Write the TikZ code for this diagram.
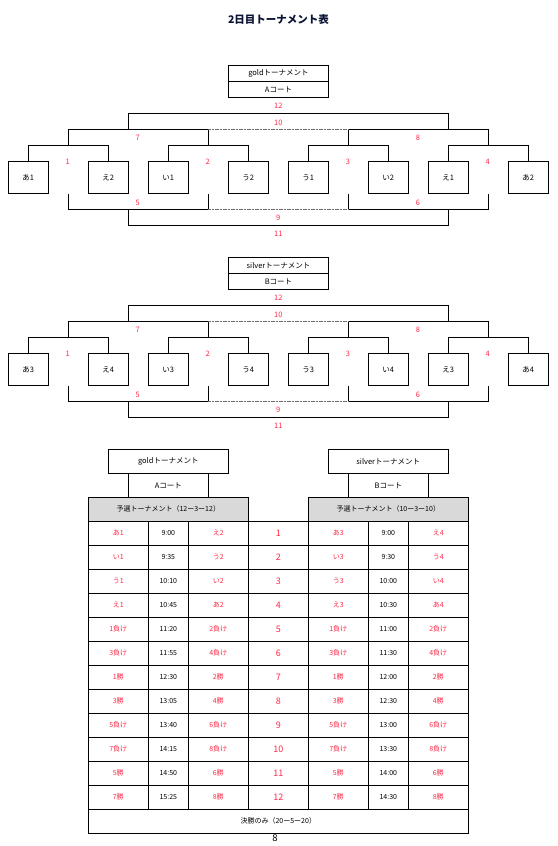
\documentclass[tikz,border=0pt]{standalone}
\usepackage{fontspec}
\setmainfont{Noto Sans CJK JP}
\definecolor{rd}{RGB}{255,40,70}
\definecolor{hdr}{RGB}{217,217,217}
\begin{document}
\begin{tikzpicture}[x=1pt,y=-1pt,line width=0.8pt]
\useasboundingbox (0,0) rectangle (557,846);
\tikzset{
 team/.style={draw, minimum width=40pt, minimum height=32pt, inner sep=0pt, font=\fontsize{7.5}{8}\selectfont},
 lbl/.style={text=rd, inner sep=0pt, font=\fontsize{7.5}{8}\selectfont},
 hd/.style={draw, minimum width=100.4pt, minimum height=16pt, inner sep=0pt, font=\fontsize{7.5}{8}\selectfont},
 dotline/.style={draw={rgb,255:red,110;green,110;blue,110}, line width=1.6pt, dash pattern=on 1.2pt off 0.4pt},
 cell/.style={draw, minimum height=24pt, inner sep=0pt, font=\fontsize{7}{8}\selectfont},
 redcell/.style={cell, text=rd},
 numcell/.style={cell, text=rd, font=\fontsize{9}{10}\selectfont},
}
\node[font=\fontsize{10.5}{12}\selectfont\bfseries, text={rgb,255:red,10;green,20;blue,50}] (title) at (278.5,19) {2日目トーナメント表};

\foreach \dy/\p/\ha/\hb/\ta/\tb/\tc/\td/\te/\tf/\tg/\th in
 {0/g/goldトーナメント/Aコート/あ1/え2/い1/う2/う1/い2/え1/あ2,
  192/s/silverトーナメント/Bコート/あ3/え4/い3/う4/う3/い4/え3/あ4}{
\begin{scope}[shift={(0,\dy)}]
 \node[hd] (\p H1) at (278.5,73.3) {\ha};
 \node[hd] (\p H2) at (278.5,89.3) {\hb};
 \node[team] (\p A1) at (28.3,177.5) {\ta};
 \node[team] (\p A2) at (108.3,177.5) {\tb};
 \node[team] (\p A3) at (168.3,177.5) {\tc};
 \node[team] (\p A4) at (248.3,177.5) {\td};
 \node[team] (\p A5) at (308.3,177.5) {\te};
 \node[team] (\p A6) at (388.3,177.5) {\tf};
 \node[team] (\p A7) at (448.3,177.5) {\tg};
 \node[team] (\p A8) at (528.3,177.5) {\th};
 % upper bracket
 \coordinate (\p M1) at (68.3,145.3);
 \coordinate (\p M2) at (208.3,145.3);
 \coordinate (\p M3) at (348.3,145.3);
 \coordinate (\p M4) at (488.3,145.3);
 \coordinate (\p N1) at (128.3,129.3);
 \coordinate (\p N2) at (448.3,129.3);
 \coordinate (\p K) at (278.3,113.3);
 \draw (\p A1.north) |- (\p M1) -| (\p A2.north);
 \draw (\p A3.north) |- (\p M2) -| (\p A4.north);
 \draw (\p A5.north) |- (\p M3) -| (\p A6.north);
 \draw (\p A7.north) |- (\p M4) -| (\p A8.north);
 \draw (\p M1) |- (\p N1) -| (\p M2);
 \draw (\p M3) |- (\p N2) -| (\p M4);
 \draw (\p N1) |- (\p K) -| (\p N2);
 \draw[dotline] (\p M2 |- \p N1) -- (\p M3 |- \p N1);
 % lower bracket
 \coordinate (\p Q1) at (68.3,193.5);
 \coordinate (\p Q2) at (208.3,193.5);
 \coordinate (\p Q3) at (348.3,193.5);
 \coordinate (\p Q4) at (488.3,193.5);
 \coordinate (\p R1) at (128.3,209.3);
 \coordinate (\p R2) at (448.3,209.3);
 \coordinate (\p S) at (278.3,225.3);
 \draw (\p Q1) |- (\p R1) -| (\p Q2);
 \draw (\p Q3) |- (\p R2) -| (\p Q4);
 \draw (\p R1) |- (\p S) -| (\p R2);
 \draw[dotline] (\p Q2 |- \p R1) -- (\p Q3 |- \p R1);
 % match numbers
 \node[lbl] (\p L12) at (278.3,106) {12};
 \node[lbl] (\p L10) at (278.3,122.5) {10};
 \node[lbl] (\p L7) at (137.7,138.3) {7};
 \node[lbl] (\p L8) at (418,138.3) {8};
 \node[lbl] (\p L1) at (67.7,161.7) {1};
 \node[lbl] (\p L2) at (207.7,161.7) {2};
 \node[lbl] (\p L3) at (348,161.7) {3};
 \node[lbl] (\p L4) at (487.7,161.7) {4};
 \node[lbl] (\p L5) at (137.7,202.7) {5};
 \node[lbl] (\p L6) at (418,202.7) {6};
 \node[lbl] (\p L9) at (278.3,218.3) {9};
 \node[lbl] (\p L11) at (278.3,234) {11};
\end{scope}}

% tables headers
\node[cell, minimum width=120pt, font=\fontsize{7.5}{8}\selectfont] (gT) at (168.3,461.3) {goldトーナメント};
\node[cell, minimum width=80pt, font=\fontsize{7.5}{8}\selectfont] (gC) at (168.3,485.3) {Aコート};
\node[cell, minimum width=160pt, fill=hdr] (gP) at (168.3,509.3) {予選トーナメント（12ー3ー12）};
\node[cell, minimum width=120pt, font=\fontsize{7.5}{8}\selectfont] (sT) at (388.3,461.3) {silverトーナメント};
\node[cell, minimum width=80pt, font=\fontsize{7.5}{8}\selectfont] (sC) at (388.3,485.3) {Bコート};
\node[cell, minimum width=160pt, fill=hdr] (sP) at (388.3,509.3) {予選トーナメント（10ー3ー10）};

\foreach \a/\t/\b/\c/\d/\e [count=\i] in {
 あ1/9:00/え2/あ3/9:00/え4,
 い1/9:35/う2/い3/9:30/う4,
 う1/10:10/い2/う3/10:00/い4,
 え1/10:45/あ2/え3/10:30/あ4,
 1負け/11:20/2負け/1負け/11:00/2負け,
 3負け/11:55/4負け/3負け/11:30/4負け,
 1勝/12:30/2勝/1勝/12:00/2勝,
 3勝/13:05/4勝/3勝/12:30/4勝,
 5負け/13:40/6負け/5負け/13:00/6負け,
 7負け/14:15/8負け/7負け/13:30/8負け,
 5勝/14:50/6勝/5勝/14:00/6勝,
 7勝/15:25/8勝/7勝/14:30/8勝}{
 \pgfmathsetmacro\yy{533.3+24*(\i-1)}
 \node[redcell, minimum width=60pt] (ga\i) at (118.3,\yy) {\a};
 \node[cell, minimum width=40pt] (gt\i) at (168.3,\yy) {\t};
 \node[redcell, minimum width=60pt] (gb\i) at (218.3,\yy) {\b};
 \node[numcell, minimum width=60pt] (n\i) at (278.3,\yy) {\i};
 \node[redcell, minimum width=60pt] (sa\i) at (338.3,\yy) {\c};
 \node[cell, minimum width=40pt] (st\i) at (388.3,\yy) {\d};
 \node[redcell, minimum width=60pt] (sb\i) at (438.3,\yy) {\e};
}
\node[cell, minimum width=380pt] (final) at (278.3,821.3) {決勝のみ（20ー5ー20）};
\node[font=\fontsize{9.5}{10}\selectfont, inner sep=0pt] (page) at (275,838.5) {8};
\end{tikzpicture}
\end{document}
